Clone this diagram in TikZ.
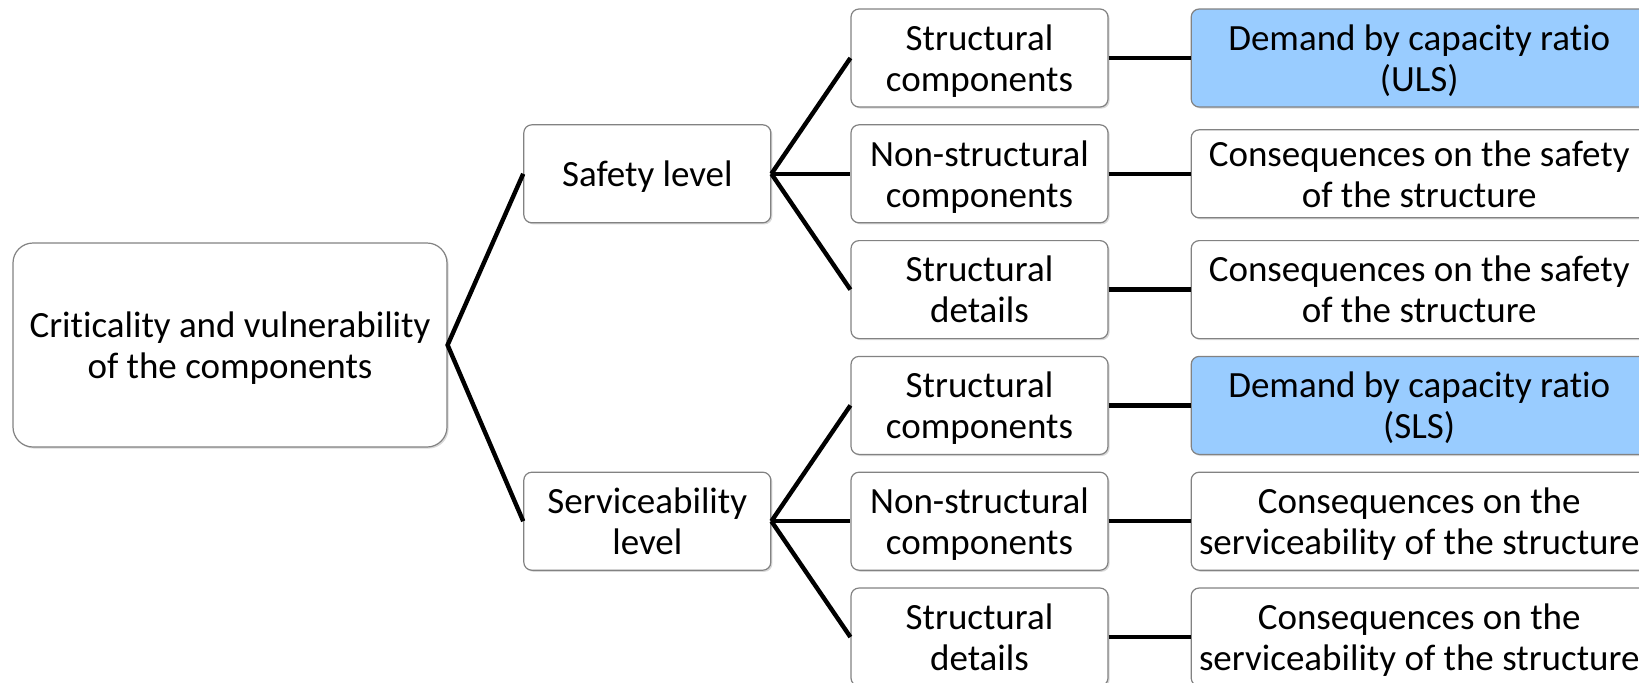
\documentclass[tikz,border=0pt]{standalone}
\usepackage{fontspec}
\setmainfont{Carlito}[Ligatures=CommonOff]
\usepackage{tikz}
\usetikzlibrary{positioning,shadows}

\definecolor{ratioblue}{RGB}{153,204,255}
\definecolor{boxline}{RGB}{130,130,130}

\begin{document}
\begin{tikzpicture}[
  font=\fontsize{18.5}{20.5}\selectfont,
  base/.style={draw=boxline,line width=0.6pt,fill=white,align=center,inner sep=0pt,
    text depth=-1.5pt,
    drop shadow={shadow xshift=0.8pt,shadow yshift=-0.8pt,opacity=0.3}},
  rootbox/.style={base,rounded corners=10pt,minimum width=217pt,minimum height=102pt},
  levelbox/.style={base,rounded corners=4pt,minimum width=123.5pt,minimum height=49pt},
  partbox/.style={base,rounded corners=4pt,minimum width=128.5pt,minimum height=49pt},
  outbox/.style={base,rounded corners=4pt,minimum width=228pt,minimum height=49pt},
  ratio/.style={outbox,fill=ratioblue},
  link/.style={line width=2.2pt},
  node distance=8.3pt and 41pt
]
\useasboundingbox (0,0) rectangle (819.5pt,-341pt);

\node[rootbox] (crit) at (115pt,-172.5pt) {Criticality and vulnerability\\of the components};

\node[partbox] (scomp1) at (489.75pt,-29pt) {Structural\\components};
\node[partbox,below=of scomp1] (nscomp1) {Non-structural\\components};
\node[partbox,below=of nscomp1] (sdet1) {Structural\\details};
\node[partbox,below=of sdet1] (scomp2) {Structural\\components};
\node[partbox,below=of scomp2] (nscomp2) {Non-structural\\components};
\node[partbox,below=of nscomp2] (sdet2) {Structural\\details};

\node[levelbox,left=39.5pt of nscomp1] (safety) {Safety level};
\node[levelbox,left=39.5pt of nscomp2] (service) {Serviceability\\level};

\node[ratio,right=of scomp1] (uls) {Demand by capacity ratio\\(ULS)};
\node[outbox,right=of nscomp1,minimum height=44pt] (safe1) {Consequences on the safety\\of the structure};
\node[outbox,right=of sdet1] (safe2) {Consequences on the safety\\of the structure};
\node[ratio,right=of scomp2] (sls) {Demand by capacity ratio\\(SLS)};
\node[outbox,right=of nscomp2] (serv1) {Consequences on the\\serviceability of the structure};
\node[outbox,right=of sdet2] (serv2) {Consequences on the\\serviceability of the structure};

\draw[link] (safety.west) -- (crit.east) -- (service.west);
\foreach \p in {scomp1,nscomp1,sdet1}
  \draw[link] (safety.east) -- (\p.west);
\foreach \p in {scomp2,nscomp2,sdet2}
  \draw[link] (service.east) -- (\p.west);
\draw[link] (scomp1) -- (uls);
\draw[link] (nscomp1) -- (safe1);
\draw[link] (sdet1) -- (safe2);
\draw[link] (scomp2) -- (sls);
\draw[link] (nscomp2) -- (serv1);
\draw[link] (sdet2) -- (serv2);
\end{tikzpicture}
\end{document}
